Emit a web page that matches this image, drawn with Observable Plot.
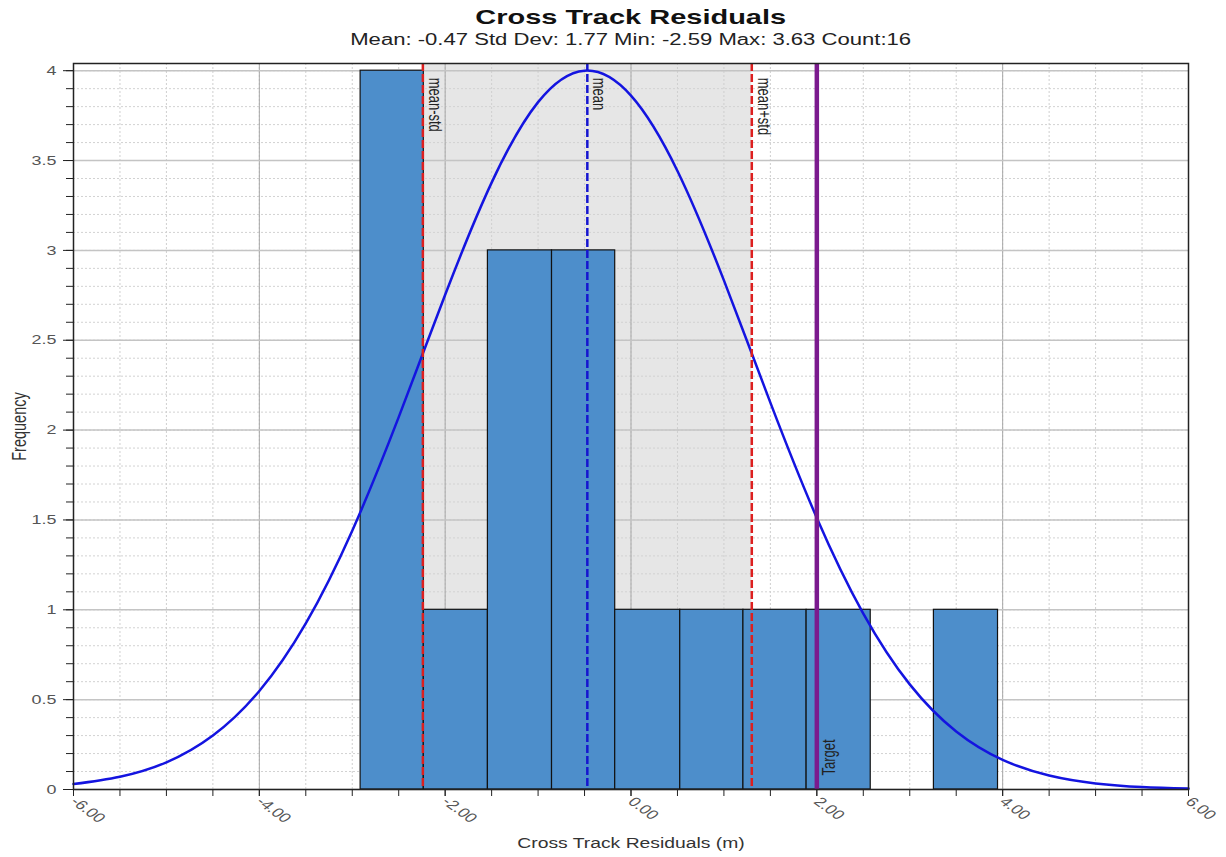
<!DOCTYPE html>
<html><head><meta charset="utf-8">
<script src="https://cdn.jsdelivr.net/npm/d3@7"></script>
<script src="https://cdn.jsdelivr.net/npm/@observablehq/plot@0.6"></script>
<style>
body{margin:0;background:#fff;font-family:"Liberation Sans",Arial,sans-serif;}
#wrap{position:relative;width:1226px;height:857px;overflow:hidden;}
#title{position:absolute;left:0;width:1261px;top:5px;text-align:center;font-weight:bold;font-size:21px;color:#111;transform:scaleX(1.38);transform-origin:630px 0;white-space:nowrap;}
#subtitle{position:absolute;left:0;width:1261px;top:31px;text-align:center;font-size:16px;color:#222;transform:scaleX(1.38);transform-origin:630px 0;white-space:nowrap;}
#chart{position:absolute;left:0;top:0;}
</style></head>
<body>
<div id="wrap">
  <div id="chart"></div>
  <div id="title">Cross Track Residuals</div>
  <div id="subtitle">Mean: -0.47 Std Dev: 1.77 Min: -2.59 Max: 3.63 Count:16</div>
</div>
<script>
// Histogram bins (edges) and counts
const binEdges = [-2.91, -2.23, -1.54, -0.85, -0.17, 0.53, 1.21, 1.89, 2.58, 3.26, 3.95];
const binCounts = [4, 1, 3, 3, 1, 1, 1, 1, 0, 1];

const curveX = [-6, -5.5, -5, -4.5, -4, -3.5, -3, -2.5, -2, -1.5, -1, -0.5, 0, 0.5, 1, 1.5, 2, 2.5, 3, 3.5, 4, 4.5, 5, 5.5, 6];
const curveY = [0.030, 0.071, 0.151, 0.300, 0.548, 0.924, 1.440, 2.072, 2.753, 3.377, 3.825, 4.000, 3.861, 3.442, 2.833, 2.153, 1.511, 0.979, 0.585, 0.323, 0.165, 0.078, 0.034, 0.014, 0.005];

// Reference lines
const refNames = ["mean-std", "mean", "mean+std"];
const refValues = [-2.24, -0.47, 1.30];
const targetName = "Target";
const targetValue = 2.0;

// Ticks
const xTicks = [-6, -4, -2, 0, 2, 4, 6];
const xMinorTicks = d3.range(-6, 6.001, 0.5);
const yTicks = [0, 0.5, 1, 1.5, 2, 2.5, 3, 3.5, 4];
const yMinorTicks = d3.range(0, 4.001, 0.1).map(v => Math.round(v * 10) / 10);

const yTop = 4.04;
const bins = binCounts.map((c, i) => ({x1: binEdges[i], x2: binEdges[i + 1], count: c})).filter(d => d.count > 0);
const curve = curveX.map((x, i) => ({x, y: curveY[i]}));
const refs = refNames.map((n, i) => ({name: n, x: refValues[i]}));

const font = '"Liberation Sans", Arial, sans-serif';

const chart = Plot.plot({
  width: 1226,
  height: 857,
  marginLeft: 73,
  marginRight: 38,
  marginTop: 63,
  marginBottom: 68,
  style: {fontFamily: font, background: "#fff"},
  x: {domain: [-6, 6]},
  y: {domain: [0, yTop]},
  marks: [
    // shaded band between mean-std and mean+std
    Plot.rect([{x1: refValues[0], x2: refValues[2]}], {x1: "x1", x2: "x2", y1: 0, y2: yTop, fill: "#e6e6e6"}),
    // minor grid
    Plot.gridX(xMinorTicks, {stroke: "#cfcfcf", strokeOpacity: 1, strokeDasharray: "2,2"}),
    Plot.gridY(yMinorTicks, {stroke: "#d2d2d2", strokeOpacity: 1, strokeDasharray: "2,2"}),
    // major grid
    Plot.gridX(xTicks, {stroke: "#a8a8a8", strokeOpacity: 1}),
    Plot.gridY(yTicks, {stroke: "#c4c4c4", strokeOpacity: 1, strokeWidth: 1.5}),
    // bars
    Plot.rectY(bins, {x1: "x1", x2: "x2", y: "count", fill: "#4d8ecb", stroke: "#111", strokeWidth: 1.2}),
    // normal curve
    Plot.line(curve, {x: "x", y: "y", curve: "natural", stroke: "#1414e0", strokeWidth: 2.5}),
    // reference lines
    Plot.ruleX(refs.filter(d => d.name !== "mean"), {x: "x", stroke: "#dd1f1f", strokeWidth: 2.5, strokeDasharray: "8,3"}),
    Plot.ruleX(refs.filter(d => d.name === "mean"), {x: "x", stroke: "#1515d0", strokeWidth: 2.5, strokeDasharray: "8,3"}),
    Plot.ruleX([targetValue], {stroke: "#7b1a8e", strokeWidth: 4.5}),
    Plot.text(refs, {x: "x", y: 4, text: "name", rotate: 90, textAnchor: "start", lineAnchor: "bottom", dx: 6, dy: 7, fontSize: 13, fill: "#222"}),
    Plot.text([{x: targetValue, name: targetName}], {x: "x", y: 0.078, text: "name", rotate: -90, textAnchor: "start", lineAnchor: "top", dx: 5, fontSize: 13, fill: "#222"}),
    // axes
    Plot.axisY(yMinorTicks, {tickSize: 7, tickFormat: () => "", stroke: "#222", label: null}),
    Plot.axisY(yTicks, {tickSize: 10, tickPadding: 7, tickFormat: d => String(d), fontSize: 13, color: "#555", stroke: "#222",
      label: "Frequency", labelAnchor: "center", labelArrow: "none", labelOffset: 62}),
    Plot.axisX(xMinorTicks, {tickSize: 7, tickFormat: () => "", stroke: "#222", label: null}),
    Plot.axisX(xTicks, {tickSize: 7, tickPadding: 3, tickRotate: 45, tickFormat: d => d.toFixed(2), fontSize: 13, color: "#555", stroke: "#222",
      label: "Cross Track Residuals (m)", labelAnchor: "center", labelArrow: "none", labelOffset: 58}),
    Plot.frame({stroke: "#222", strokeWidth: 1.5})
  ]
});
document.getElementById("chart").appendChild(chart);

// styling of axis texts
const setSize = (sel, size, fill) => chart.querySelectorAll(sel).forEach(t => {
  t.setAttribute("font-size", size); if (fill) t.setAttribute("fill", fill);
});
setSize('g[aria-label="y-axis tick label"] text', 13, "#555");
setSize('g[aria-label="x-axis tick label"] text', 13, "#555");
setSize('g[aria-label="y-axis label"] text', 14.5, "#333");
setSize('g[aria-label="x-axis label"] text', 14, "#333");

// the reference picture is stretched horizontally: widen every text the same way
chart.querySelectorAll("text").forEach(t => {
  const tr = t.getAttribute("transform") || "";
  const m = tr.match(/^\s*(translate\([^)]*\))(.*)$/);
  if (m) t.setAttribute("transform", m[1] + " scale(1.38,1)" + m[2]);
});
</script>
</body></html>
